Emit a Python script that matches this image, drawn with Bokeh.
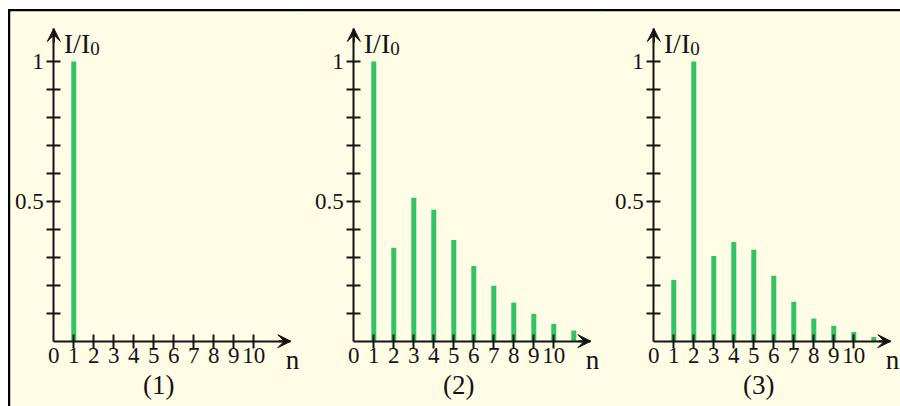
from bokeh.plotting import figure
from bokeh.layouts import row, column
from bokeh.models import FixedTicker, LinearAxis, Arrow, VeeHead, Spacer
from bokeh.core.properties import value
from bokeh.embed import file_html
from bokeh.resources import INLINE

# ---------------- data ----------------
panel_labels = ["(1)", "(2)", "(3)"]

n_1 = [1]
ratio_1 = [1.0]

n_2 = [1, 2, 3, 4, 5, 6, 7, 8, 9, 10, 11]
ratio_2 = [1.0, 0.334, 0.513, 0.47, 0.362, 0.269, 0.198, 0.138, 0.098, 0.062, 0.038]

n_3 = [1, 2, 3, 4, 5, 6, 7, 8, 9, 10, 11]
ratio_3 = [0.219, 1.0, 0.305, 0.355, 0.327, 0.234, 0.141, 0.081, 0.055, 0.033, 0.015]

x_ticks = [1, 2, 3, 4, 5, 6, 7, 8, 9, 10]
x_tick_labels = ["1", "2", "3", "4", "5", "6", "7", "8", "9", "10"]
x_origin_tick = [0]
x_origin_label = ["0"]
y_ticks = [0.1, 0.2, 0.3, 0.4, 0.5, 0.6, 0.7, 0.8, 0.9, 1.0]
y_tick_labels = ["", "", "", "", "0.5", "", "", "", "", "1"]
y_title = "I/I"
y_title_sub = "0"
x_title = "n"

# ---------------- style / layout ----------------
CREAM = "#FFFDE6"
GREEN = "#33C266"
INK = "#141414"
SERIF = "Liberation Serif"

PAGE_W, PAGE_H = 900, 406
MARGIN_L, MARGIN_T = 8, 9
BORDER = 2
PX_PER_N = 20.0       # pixels per unit n
PX_PER_I = 279.7      # pixels per unit I/I0
BASE_Y = 340.7        # page y of the n axis
AXIS_X = 53.3         # page x of the I axis within a 300px panel
FIG_H = PAGE_H - MARGIN_T
FRAME_TOP = MARGIN_T + BORDER
X_TIP = 11.85         # end of n axis arrow (data)
Y_TIP = 1.118         # end of I axis arrow (data)


def y_at(page_y):
    return (BASE_Y - page_y) / PX_PER_I


def make_panel(ns, ratios, label, panel_left, width, left_border):
    frame_left = panel_left + (BORDER if left_border else 0)
    frame_w = panel_left + width - frame_left
    x0 = -(AXIS_X + (panel_left // 300) * 300 - frame_left) / PX_PER_N
    p = figure(width=width, height=FIG_H,
               x_range=(x0, x0 + frame_w / PX_PER_N),
               y_range=(y_at(PAGE_H), y_at(FRAME_TOP)),
               output_backend="svg", toolbar_location=None,
               x_axis_type=None, y_axis_type=None, min_border=0)
    p.min_border_top = BORDER
    p.min_border_left = BORDER if left_border else 0
    p.min_border_right = 0
    p.min_border_bottom = 0
    p.background_fill_color = CREAM
    p.border_fill_color = "black"
    p.outline_line_color = None
    layers = [f"linear-gradient(#000, #000) top left / 100% {BORDER}px no-repeat"]
    if left_border:
        layers.append(f"linear-gradient(#000, #000) top left / {BORDER}px 100% no-repeat")
    p.styles = {"background": ", ".join(layers) + f", {CREAM}"}

    p.vbar(x=ns, top=ratios, bottom=0, width=0.25, fill_color=GREEN, line_color=None)

    common = dict(fixed_location=0, axis_line_width=2, axis_line_color=INK,
                  major_tick_line_width=2, major_tick_line_color=INK,
                  minor_tick_line_color=None,
                  major_label_text_font=SERIF, major_label_text_color=INK,
                  major_label_text_font_size="23px")

    xaxis = LinearAxis(ticker=FixedTicker(ticks=x_ticks),
                       major_label_overrides=dict(zip(x_ticks, x_tick_labels)),
                       bounds=(0, X_TIP), major_tick_in=7, major_tick_out=7,
                       major_label_standoff=0, **common)
    p.add_layout(xaxis, "below")

    x0axis = LinearAxis(ticker=FixedTicker(ticks=x_origin_tick),
                        major_label_overrides=dict(zip(x_origin_tick, x_origin_label)),
                        major_tick_in=0, major_tick_out=0, major_label_standoff=7,
                        **{**common, "axis_line_color": None, "major_tick_line_color": None})
    p.add_layout(x0axis, "below")

    yaxis = LinearAxis(ticker=FixedTicker(ticks=y_ticks),
                       major_label_overrides=dict(zip(y_ticks, y_tick_labels)),
                       bounds=(0, Y_TIP), major_tick_in=7, major_tick_out=7,
                       major_label_standoff=3, **common)
    p.add_layout(yaxis, "left")

    p.add_layout(Arrow(end=VeeHead(size=13, fill_color=INK, line_color=INK, line_width=1),
                       x_start=X_TIP - 0.6, y_start=0, x_end=X_TIP, y_end=0,
                       line_width=2, line_color=INK))
    p.add_layout(Arrow(end=VeeHead(size=13, fill_color=INK, line_color=INK, line_width=1),
                       x_start=0, y_start=Y_TIP - 0.05, x_end=0, y_end=Y_TIP,
                       line_width=2, line_color=INK))

    p.text(x=[0.5], y=[y_at(43)], text=[y_title], text_font=value(SERIF),
           text_font_size="28px", text_align="left", text_baseline="alphabetic",
           text_color=INK)
    p.text(x=[1.82], y=[y_at(48)], text=[y_title_sub], text_font=value(SERIF),
           text_font_size="19px", text_align="left", text_baseline="alphabetic",
           text_color=INK)
    p.text(x=[11.6], y=[y_at(359)], text=[x_title], text_font=value(SERIF),
           text_font_size="27px", text_align="left", text_baseline="alphabetic",
           text_color=INK)
    p.text(x=[5.25], y=[y_at(384)], text=[label], text_font=value(SERIF),
           text_font_size="27px", text_align="center", text_baseline="middle",
           text_color=INK)
    return p


p1 = make_panel(n_1, ratio_1, panel_labels[0], MARGIN_L, 300 - MARGIN_L, True)
p2 = make_panel(n_2, ratio_2, panel_labels[1], 300, 300, False)
p3 = make_panel(n_3, ratio_3, panel_labels[2], 600, 300, False)

layout = column(Spacer(width=PAGE_W, height=MARGIN_T),
                row(Spacer(width=MARGIN_L, height=FIG_H), p1, p2, p3, spacing=0),
                spacing=0)

open("out.html", "w").write(file_html(layout, INLINE))
